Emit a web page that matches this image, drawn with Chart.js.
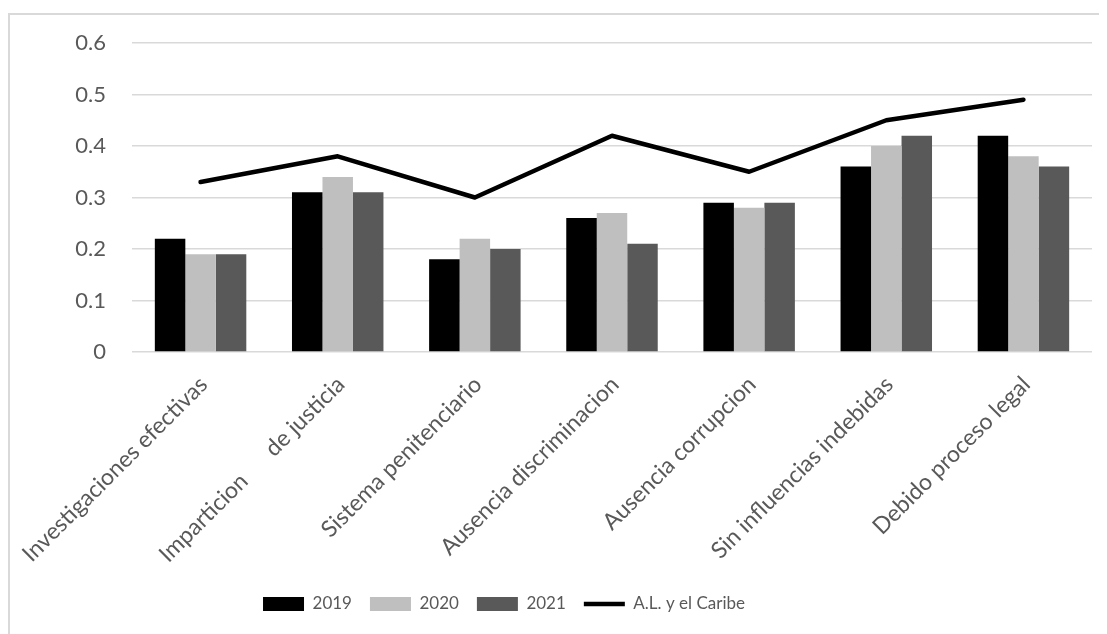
<!DOCTYPE html>
<html lang="es">
<head>
<meta charset="utf-8">
<title>Justicia penal 2019-2021</title>
<script src="https://cdn.jsdelivr.net/npm/chart.js@4/dist/chart.umd.min.js"></script>
<style>
  html, body { margin: 0; padding: 0; background: #ffffff; }
  #wrap { position: relative; width: 1107px; height: 634px; overflow: hidden; }
  #frame {
    position: absolute; left: 8px; top: 13px; width: 1089px; height: 700px;
    border-left: 2px solid #d9d9d9; border-top: 2px solid #d9d9d9;
    pointer-events: none;
  }
  canvas { position: absolute; left: 0; top: 0; }
</style>
</head>
<body>
<div id="wrap">
  <canvas id="chart" width="1107" height="634"></canvas>
  <div id="frame"></div>
</div>
<script>
// Categories (sub-factors of criminal justice)
const categories = [
  "Investigaciones efectivas",
  "Imparticion      de justicia",
  "Sistema penitenciario",
  "Ausencia discriminacion",
  "Ausencia corrupcion",
  "Sin influencias indebidas",
  "Debido proceso legal"
];

// Scores per year
const values2019 = [0.22, 0.31, 0.18, 0.26, 0.29, 0.36, 0.42];
const values2020 = [0.19, 0.34, 0.22, 0.27, 0.28, 0.40, 0.38];
const values2021 = [0.19, 0.31, 0.20, 0.21, 0.29, 0.42, 0.36];

// Regional average (Latin America and the Caribbean)
const valuesRegion = [0.33, 0.38, 0.30, 0.42, 0.35, 0.45, 0.49];

// Value axis ticks
const yTicks = [0, 0.1, 0.2, 0.3, 0.4, 0.5, 0.6];

const TEXT = "#595959";
const GRID = "#d9d9d9";
const FONT = "Lato, 'Open Sans', sans-serif";

// Moves the centred legend a little to the left
const legendShift = {
  id: "legendShift",
  afterLayout(chart) {
    const lg = chart.legend;
    if (lg) { lg.left -= 42; lg.right -= 42; }
  }
};

new Chart(document.getElementById("chart"), {
  type: "bar",
  data: {
    labels: categories,
    datasets: [
      { label: "2019", data: values2019, backgroundColor: "#000000", borderWidth: 0, pointStyle: "rect" },
      { label: "2020", data: values2020, backgroundColor: "#bfbfbf", borderWidth: 0, pointStyle: "rect" },
      { label: "2021", data: values2021, backgroundColor: "#595959", borderWidth: 0, pointStyle: "rect" },
      {
        type: "line", label: "A.L. y el Caribe", data: valuesRegion,
        borderColor: "#000000", backgroundColor: "#000000", borderWidth: 4.5,
        borderCapStyle: "round", borderJoinStyle: "round",
        pointRadius: 0, pointHoverRadius: 0, pointStyle: "line", tension: 0, fill: false
      }
    ]
  },
  options: {
    responsive: false,
    animation: false,
    devicePixelRatio: 1,
    layout: { padding: { left: 0, right: 15, top: 43, bottom: 11.5 } },
    datasets: { bar: { categoryPercentage: 0.667, barPercentage: 1.0 } },
    plugins: {
      tooltip: { enabled: false },
      legend: {
        position: "bottom",
        labels: {
          usePointStyle: true,
          pointStyleWidth: 41,
          boxHeight: 14,
          padding: 18,
          color: TEXT,
          font: { family: FONT, size: 17 }
        }
      }
    },
    scales: {
      x: {
        grid: { display: false, drawTicks: false },
        border: { display: false },
        ticks: {
          autoSkip: false, maxRotation: 45, minRotation: 45, padding: 19, labelOffset: 3,
          color: TEXT, font: { family: FONT, size: 23 }
        },
        afterFit(scale) {
          scale.height = 225.5;
          scale.paddingLeft = 0;
          scale.paddingRight = 0;
        }
      },
      y: {
        min: 0, max: 0.6,
        afterBuildTicks(scale) { scale.ticks = yTicks.map(v => ({ value: v })); },
        grid: { color: GRID, lineWidth: 1.5, drawTicks: false },
        border: { display: false },
        ticks: {
          padding: 26, color: TEXT, font: { family: FONT, size: 22 },
          callback: v => String(Math.round(v * 10) / 10)
        },
        afterFit(scale) { scale.width = 132; }
      }
    }
  },
  plugins: [legendShift]
});
</script>
</body>
</html>
